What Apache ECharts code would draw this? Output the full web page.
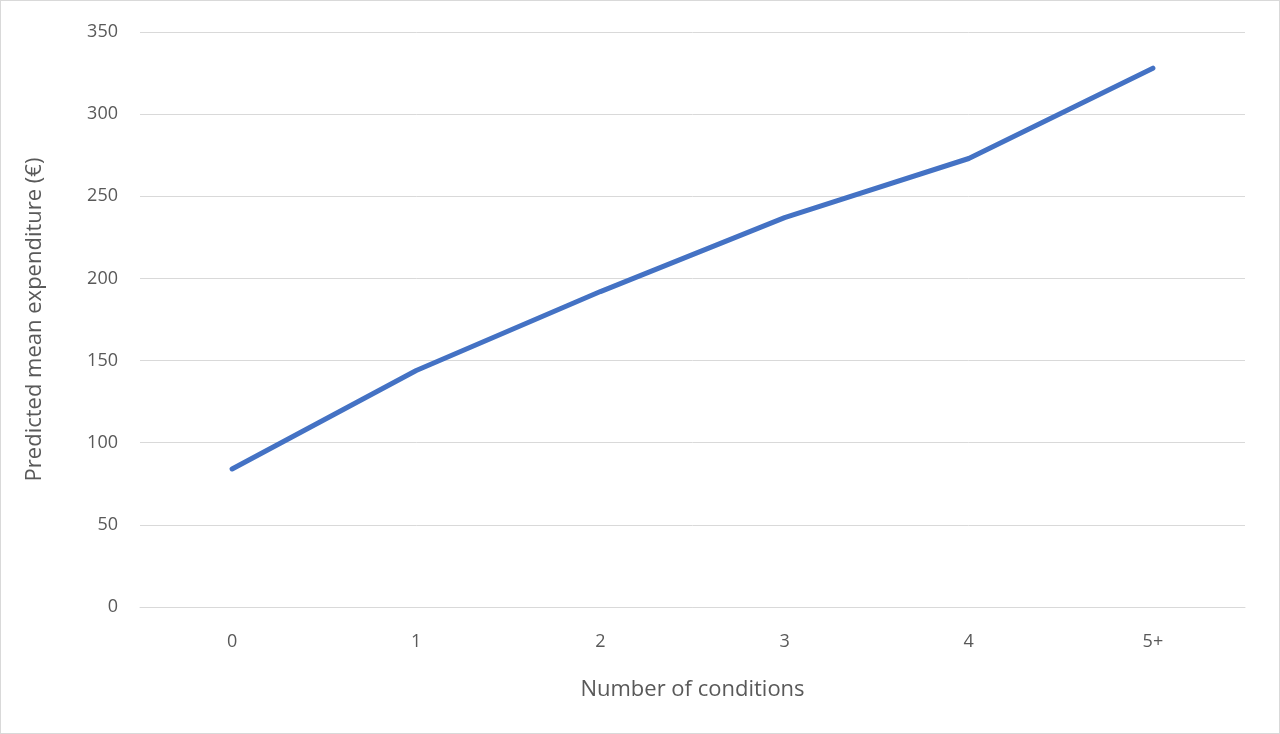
<!DOCTYPE html>
<html><head><meta charset="utf-8">
<script src="https://cdn.jsdelivr.net/npm/echarts@6/dist/echarts.min.js"></script>
<style>html,body{margin:0;padding:0;background:#fff}#c{width:1280px;height:734px;box-sizing:border-box;border:1px solid #d9d9d9}</style>
</head><body><div id="c"></div>
<script>
const categories = ['0','1','2','3','4','5+'];
const values = [84, 144, 192, 237, 273, 328];
const chart = echarts.init(document.getElementById('c'));
const txt = '#595959', font = 'Open Sans';
chart.setOption({
  animation:false,
  grid:{left:139,right:34,top:31,bottom:126},
  xAxis:{type:'category',data:categories,name:'Number of conditions',nameLocation:'middle',nameGap:72,
    nameTextStyle:{color:txt,fontSize:22,fontFamily:font},
    axisLine:{lineStyle:{color:'#d9d9d9'}},axisTick:{show:false},
    axisLabel:{color:txt,fontSize:18,fontFamily:font,margin:26}},
  yAxis:{type:'value',min:0,max:350,interval:50,name:'Predicted mean expenditure (€)',nameLocation:'middle',nameGap:94,
    nameTextStyle:{color:txt,fontSize:22,fontFamily:font},
    axisLine:{show:false},axisTick:{show:false},
    splitLine:{lineStyle:{color:'#d9d9d9',width:1}},
    axisLabel:{color:txt,fontSize:18,fontFamily:font,margin:22}},
  series:[{type:'line',data:values,symbol:'none',lineStyle:{color:'#4472C4',width:5,cap:'round'}}]
});
</script></body></html>
